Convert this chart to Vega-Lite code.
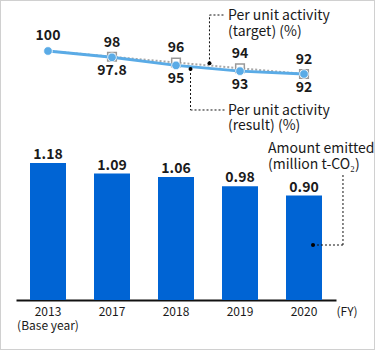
{
  "$schema": "https://vega.github.io/schema/vega-lite/v6.json",
  "width": 375,
  "height": 350,
  "autosize": "none",
  "padding": 0,
  "background": "white",
  "config": {
    "view": {"stroke": "#d0d0d0", "strokeWidth": 2},
    "font": "Noto Sans CJK JP",
    "text": {"font": "Noto Sans CJK JP", "color": "#1a1a1a"}
  },
  "datasets": {
    "emitted": [
      {"year": "2013", "amount": 1.18},
      {"year": "2017", "amount": 1.09},
      {"year": "2018", "amount": 1.06},
      {"year": "2019", "amount": 0.98},
      {"year": "2020", "amount": 0.90}
    ],
    "unit": [
      {"year": "2013", "result": 100, "target": 100},
      {"year": "2017", "result": 97.8, "target": 98},
      {"year": "2018", "result": 95, "target": 96},
      {"year": "2019", "result": 93, "target": 94},
      {"year": "2020", "result": 92, "target": 92}
    ],
    "leaders": [
      {"note": "target", "ax": 2.523, "ay": 95.72, "ax2": 2.523, "ay2": 112.52},
      {"note": "target", "ax": 2.523, "ay": 112.52, "ax2": 2.766, "ay2": 112.52},
      {"note": "result", "ax": 2.227, "ay": 93.74, "ax2": 2.227, "ay2": 79.48},
      {"note": "result", "ax": 2.227, "ay": 79.48, "ax2": 2.766, "ay2": 79.48},
      {"note": "emitted", "ax": 4.1406, "ay": 32.52, "ax2": 4.609, "ay2": 32.52},
      {"note": "emitted", "ax": 4.609, "ay": 32.52, "ax2": 4.609, "ay2": 57.57}
    ],
    "dots": [
      {"note": "target", "ax": 2.523, "ay": 95.72},
      {"note": "result", "ax": 2.227, "ay": 93.74},
      {"note": "emitted", "ax": 4.1406, "ay": 32.52}
    ],
    "notes": [
      {"note": "target", "ax": 2.8125, "ay": 110.78, "label": "Per unit activity\n(target) (%)"},
      {"note": "result", "ax": 2.8125, "ay": 77.74, "label": "Per unit activity\n(result) (%)"},
      {"note": "emitted", "ax": 3.4375, "ay": 64.52, "label": "Amount emitted\n(million t-CO₂)"}
    ]
  },
  "layer": [
    {
      "data": {"name": "emitted"},
      "mark": {"type": "bar", "color": "#0064d4"},
      "encoding": {
        "x": {
          "field": "year", "type": "nominal", "sort": null,
          "scale": {"domain": ["2013", "2017", "2018", "2019", "2020"], "range": [16, 336], "paddingInner": 0.4375, "paddingOuter": 0.21875},
          "axis": {
            "title": "(FY)", "titleX": 336, "titleY": 15.3, "titleAlign": "left",
            "titleBaseline": "alphabetic", "titleAnchor": null, "titleFontSize": 12,
            "titleFontWeight": "normal", "titleColor": "#1a1a1a", "titleFont": "Noto Sans CJK JP",
            "offset": -50, "domainColor": "#111111", "domainWidth": 2,
            "ticks": false, "tickSize": 0, "labelPadding": 6, "labelAngle": 0,
            "labelFontSize": 12, "labelColor": "#1a1a1a", "labelFont": "Noto Sans CJK JP",
            "labelLineHeight": 14, "grid": false,
            "labelExpr": "datum.value == '2013' ? ['2013', '(Base year)'] : datum.value"
          }
        },
        "y": {"field": "amount", "type": "quantitative", "scale": {"domain": [-0.431, 2.586], "nice": false, "zero": false}, "axis": null},
        "y2": {"datum": 0}
      }
    },
    {
      "data": {"name": "emitted"},
      "mark": {"type": "text", "fontSize": 14, "fontWeight": "bold", "baseline": "alphabetic", "dy": -4},
      "encoding": {
        "x": {"field": "year", "type": "nominal", "sort": null, "scale": {"domain": ["2013", "2017", "2018", "2019", "2020"], "range": [16, 336], "paddingInner": 0.4375, "paddingOuter": 0.21875}, "axis": null},
        "y": {"field": "amount", "type": "quantitative", "scale": {"domain": [-0.431, 2.586], "nice": false, "zero": false}, "axis": null},
        "text": {"field": "amount", "type": "quantitative", "format": ".2f"}
      }
    },
    {
      "data": {"name": "unit"},
      "mark": {"type": "line", "color": "#a8a8a8", "strokeWidth": 2, "strokeDash": [2, 2]},
      "encoding": {
        "x": {"field": "year", "type": "nominal", "sort": null, "scale": {"domain": ["2013", "2017", "2018", "2019", "2020"], "range": [16, 336], "paddingInner": 0.4375, "paddingOuter": 0.21875}, "axis": null},
        "y": {"field": "target", "type": "quantitative", "scale": {"domain": [-4, 117.739], "nice": false, "zero": false}, "axis": null}
      }
    },
    {
      "data": {"name": "unit"},
      "transform": [{"filter": "datum.year != '2013'"}],
      "mark": {"type": "point", "shape": "square", "size": 75, "filled": true, "fill": "white", "stroke": "#999999", "strokeWidth": 1.5, "opacity": 1},
      "encoding": {
        "x": {"field": "year", "type": "nominal", "sort": null, "scale": {"domain": ["2013", "2017", "2018", "2019", "2020"], "range": [16, 336], "paddingInner": 0.4375, "paddingOuter": 0.21875}, "axis": null},
        "y": {"field": "target", "type": "quantitative", "scale": {"domain": [-4, 117.739], "nice": false, "zero": false}, "axis": null}
      }
    },
    {
      "data": {"name": "unit"},
      "mark": {"type": "line", "color": "#5aabe6", "strokeWidth": 3},
      "encoding": {
        "x": {"field": "year", "type": "nominal", "sort": null, "scale": {"domain": ["2013", "2017", "2018", "2019", "2020"], "range": [16, 336], "paddingInner": 0.4375, "paddingOuter": 0.21875}, "axis": null},
        "y": {"field": "result", "type": "quantitative", "scale": {"domain": [-4, 117.739], "nice": false, "zero": false}, "axis": null}
      }
    },
    {
      "data": {"name": "unit"},
      "mark": {"type": "point", "shape": "circle", "size": 75, "filled": true, "fill": "#5aabe6", "stroke": "white", "strokeWidth": 0.8, "opacity": 1},
      "encoding": {
        "x": {"field": "year", "type": "nominal", "sort": null, "scale": {"domain": ["2013", "2017", "2018", "2019", "2020"], "range": [16, 336], "paddingInner": 0.4375, "paddingOuter": 0.21875}, "axis": null},
        "y": {"field": "result", "type": "quantitative", "scale": {"domain": [-4, 117.739], "nice": false, "zero": false}, "axis": null}
      }
    },
    {
      "data": {"name": "unit"},
      "transform": [{"filter": "datum.year != '2013'"}],
      "mark": {"type": "text", "fontSize": 14, "fontWeight": "bold", "baseline": "alphabetic", "dy": -10},
      "encoding": {
        "x": {"field": "year", "type": "nominal", "sort": null, "scale": {"domain": ["2013", "2017", "2018", "2019", "2020"], "range": [16, 336], "paddingInner": 0.4375, "paddingOuter": 0.21875}, "axis": null},
        "y": {"field": "target", "type": "quantitative", "scale": {"domain": [-4, 117.739], "nice": false, "zero": false}, "axis": null},
        "text": {"field": "target", "type": "quantitative"}
      }
    },
    {
      "data": {"name": "unit"},
      "transform": [{"filter": "datum.year != '2013'"}],
      "mark": {"type": "text", "fontSize": 14, "fontWeight": "bold", "baseline": "alphabetic", "dy": 18},
      "encoding": {
        "x": {"field": "year", "type": "nominal", "sort": null, "scale": {"domain": ["2013", "2017", "2018", "2019", "2020"], "range": [16, 336], "paddingInner": 0.4375, "paddingOuter": 0.21875}, "axis": null},
        "y": {"field": "result", "type": "quantitative", "scale": {"domain": [-4, 117.739], "nice": false, "zero": false}, "axis": null},
        "text": {"field": "result", "type": "quantitative"}
      }
    },
    {
      "data": {"name": "unit"},
      "transform": [{"filter": "datum.year == '2013'"}],
      "mark": {"type": "text", "fontSize": 14, "fontWeight": "bold", "baseline": "alphabetic", "dy": -11},
      "encoding": {
        "x": {"field": "year", "type": "nominal", "sort": null, "scale": {"domain": ["2013", "2017", "2018", "2019", "2020"], "range": [16, 336], "paddingInner": 0.4375, "paddingOuter": 0.21875}, "axis": null},
        "y": {"field": "result", "type": "quantitative", "scale": {"domain": [-4, 117.739], "nice": false, "zero": false}, "axis": null},
        "text": {"field": "result", "type": "quantitative"}
      }
    },
    {
      "data": {"name": "leaders"},
      "mark": {"type": "rule", "color": "#111111", "strokeWidth": 1, "strokeDash": [2, 2]},
      "encoding": {
        "x": {"field": "ax", "type": "quantitative", "scale": {"domain": [-0.75, 5.109375], "nice": false, "zero": false}, "axis": null},
        "x2": {"field": "ax2"},
        "y": {"field": "ay", "type": "quantitative", "scale": {"domain": [-4, 117.739], "nice": false, "zero": false}, "axis": null},
        "y2": {"field": "ay2"}
      }
    },
    {
      "data": {"name": "dots"},
      "mark": {"type": "point", "shape": "circle", "size": 16, "filled": true, "color": "#000000", "opacity": 1},
      "encoding": {
        "x": {"field": "ax", "type": "quantitative", "scale": {"domain": [-0.75, 5.109375], "nice": false, "zero": false}, "axis": null},
        "y": {"field": "ay", "type": "quantitative", "scale": {"domain": [-4, 117.739], "nice": false, "zero": false}, "axis": null}
      }
    },
    {
      "data": {"name": "notes"},
      "mark": {"type": "text", "fontSize": 14, "align": "left", "baseline": "alphabetic", "lineBreak": "\n", "lineHeight": 15.5},
      "encoding": {
        "x": {"field": "ax", "type": "quantitative", "scale": {"domain": [-0.75, 5.109375], "nice": false, "zero": false}, "axis": null},
        "y": {"field": "ay", "type": "quantitative", "scale": {"domain": [-4, 117.739], "nice": false, "zero": false}, "axis": null},
        "text": {"field": "label", "type": "nominal"}
      }
    }
  ],
  "resolve": {"scale": {"x": "independent", "y": "independent"}}
}
